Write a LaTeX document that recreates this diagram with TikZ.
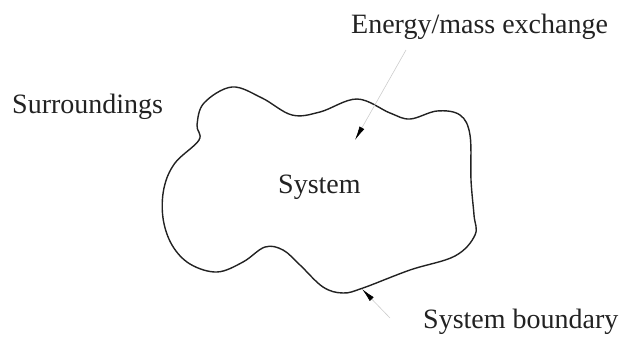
\documentclass[tikz,border=0pt]{standalone}
\usepackage{fontspec}
\setmainfont{Liberation Serif}
\usepackage{xcolor}
\usepackage{tikz}
\usetikzlibrary{arrows.meta}
\definecolor{inkgray}{HTML}{222222}
\definecolor{fadegray}{HTML}{CCCCCC}

\begin{document}
\begin{tikzpicture}[x=1pt,y=-1pt,
    label/.style={inkgray,anchor=base west,inner sep=0pt,font=\fontsize{28}{32}\selectfont},
    pointer/.style={line width=0.6pt,fadegray,-{Latex[length=14pt,width=5.5pt,color=black]}}]
  \useasboundingbox (0,0) rectangle (622,338);
  % system outline
  \draw[line width=1.4pt,inkgray] plot[smooth cycle,tension=0.6] coordinates {
    (199,140) (197,125) (204,103) (232,87) (262,98) (292,115) (320,112)
    (357,99) (390,113) (410,119) (437,111) (460,115) (470,135) (471,180)
    (474,215) (475,235) (455,256) (410,270) (363,288) (343,293) (323,287)
    (300,265) (283,250) (265,247) (243,262) (217,272) (190,264) (172,245)
    (163,218) (164,188) (175,163)};
  \node[label] (exch) at (351,33) {Energy/mass exchange};
  \node[label] (surr) at (12,113) {Surroundings};
  \node[label] (sys) at (278,193) {System};
  \node[label] (bound) at (423,328) {System boundary};
  \coordinate (exTail) at (406,50);
  \coordinate (exTip) at (355,140);
  \coordinate (bdTail) at (390,318);
  \coordinate (bdTip) at (362,289);
  \draw[pointer] (exTail) -- (exTip);
  \draw[pointer] (bdTail) -- (bdTip);
\end{tikzpicture}
\end{document}
